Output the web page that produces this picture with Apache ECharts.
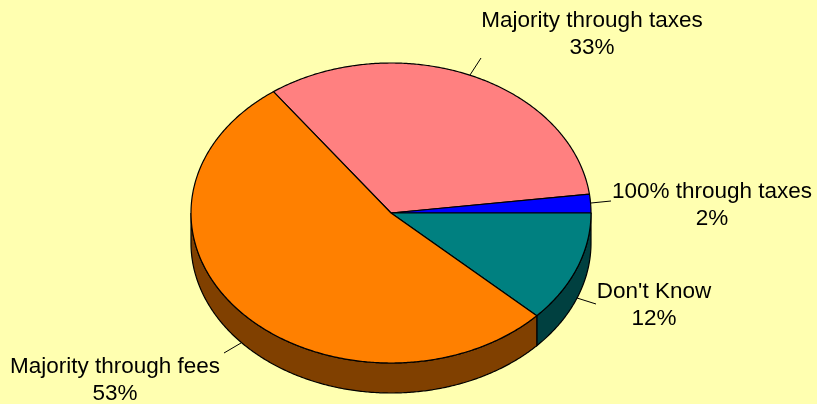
<!DOCTYPE html>
<html><head><meta charset="utf-8">
<style>html,body{margin:0;padding:0;background:#FFFFB0}#c{width:817px;height:404px}</style>
<script src="https://cdn.jsdelivr.net/npm/echarts@6/dist/echarts.min.js"></script>
</head><body><div id="c"></div>
<script>
const categories = ["Majority through taxes", "100% through taxes", "Don't Know", "Majority through fees"];
const shares = [33, 2, 12, 53];
const topColors = ["#FF8080", "#0000FF", "#008080", "#FF8000"];
const sideColors = ["#804040", "#000080", "#004040", "#804000"];
// Label layout: text block centre, leader from->to
const labelLayout = [
  {x: 592, y: 34, line: [[470, 75], [481, 58]]},
  {x: 712, y: 205, line: [[591, 203], [611, 201]]},
  {x: 654, y: 305, line: [[577, 298], [596, 304]]},
  {x: 115, y: 380, line: [[241, 343], [224, 353]]}
];
const cx = 391, cy = 213, rx = 200, ry = 150, depth = 30;
const total = shares.reduce((a, b) => a + b, 0);
const firstAngle = 126; // math degrees, running clockwise
function sliceRange(i) {
  let before = 0;
  for (let k = 0; k < i; k++) before += shares[k];
  return [firstAngle - before / total * 360, firstAngle - (before + shares[i]) / total * 360];
}
function pt(t, dy) {
  const r = t * Math.PI / 180;
  return [cx + rx * Math.cos(r), cy - ry * Math.sin(r) + (dy || 0)];
}
function arc(a, b, dy) {
  const n = Math.max(2, Math.ceil(Math.abs(a - b) * 2));
  const out = [];
  for (let i = 0; i <= n; i++) out.push(pt(a + (b - a) * i / n, dy));
  return out;
}
const rows = categories.map((c, i) => ({name: c, value: shares[i]}));

function renderSide(params) {
  const i = params.dataIndex;
  const [a, b] = sliceRange(i);
  const kids = [];
  for (const off of [0, -360, 360]) {
    const s = Math.min(a + off, 0), e = Math.max(b + off, -180);
    if (s > e) {
      const top = arc(s, e, 0), bot = arc(e, s, depth);
      kids.push({type: 'polygon', shape: {points: top.concat(bot)},
        style: {fill: sideColors[i], stroke: '#000', lineWidth: 1.2}});
    }
  }
  return {type: 'group', children: kids};
}
function renderTop(params) {
  const i = params.dataIndex;
  const [a, b] = sliceRange(i);
  return {type: 'polygon', shape: {points: [[cx, cy]].concat(arc(a, b, 0))},
    style: {fill: topColors[i], stroke: '#000', lineWidth: 1.2}};
}
function renderLabel(params) {
  const i = params.dataIndex, L = labelLayout[i];
  return {type: 'group', children: [
    {type: 'polyline', shape: {points: L.line}, style: {fill: null, stroke: '#000', lineWidth: 1}},
    {type: 'text', style: {x: L.x, y: L.y, text: categories[i] + '\n' + shares[i] + '%',
      fill: '#000', font: '22.5px "Liberation Sans", Arial, sans-serif',
      align: 'center', verticalAlign: 'middle', lineHeight: 27}}
  ]};
}
const chart = echarts.init(document.getElementById('c'), null, {renderer: 'canvas'});
chart.setOption({
  animation: false,
  backgroundColor: '#FFFFB0',
  xAxis: {show: false}, yAxis: {show: false},
  series: [
    {type: 'custom', coordinateSystem: 'none', z: 1, data: rows, renderItem: renderSide, silent: true},
    {type: 'custom', coordinateSystem: 'none', z: 2, data: rows, renderItem: renderTop, silent: true},
    {type: 'custom', coordinateSystem: 'none', z: 3, data: rows, renderItem: renderLabel, silent: true}
  ]
});
</script></body></html>
